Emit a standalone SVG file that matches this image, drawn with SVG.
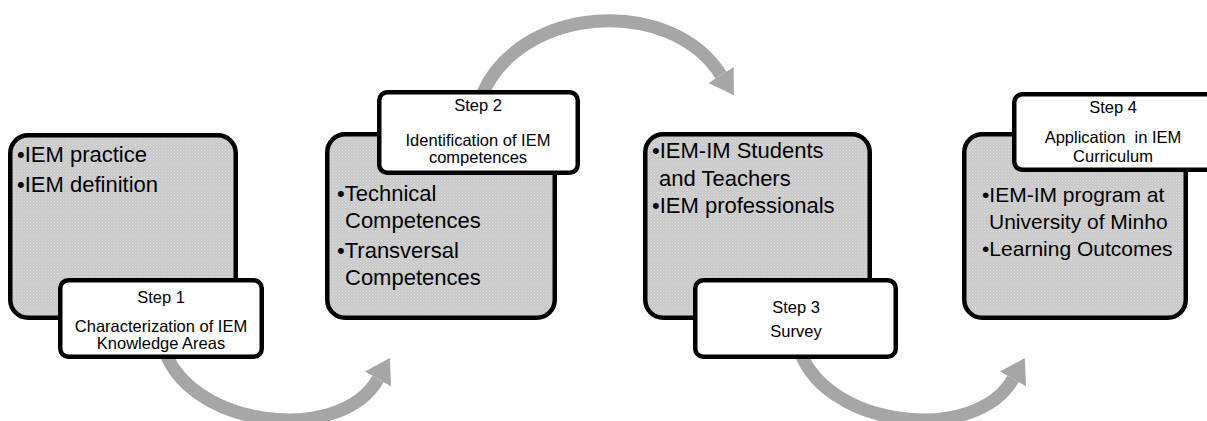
<svg xmlns="http://www.w3.org/2000/svg" width="1207" height="421" viewBox="0 0 1207 421">
  <style>
    .panel { fill: url(#dots); stroke: #000; stroke-width: 4.5; }
    .label { fill: #fff; stroke: #000; stroke-width: 4.5; }
    .bul { font-family: "Liberation Sans", Arial, sans-serif; font-size: 22px; fill: #000; }
    .sm { font-size: 21px; }
    .stp { font-family: "Liberation Sans", Arial, sans-serif; font-size: 16.5px; fill: #000; text-anchor: middle; }
    .arc { fill: none; stroke: #a6a6a6; stroke-width: 13; }
  </style>
  <defs>
    <pattern id="dots" width="3" height="3" patternUnits="userSpaceOnUse">
      <rect width="3" height="3" fill="#c9c9c9"/>
      <rect x="0" y="0" width="1" height="1" fill="#dedede"/>
      <rect x="1.5" y="1.5" width="1" height="1" fill="#d9d9d9"/>
    </pattern>
    <marker id="head" viewBox="0 0 24 30" refX="0" refY="15" markerWidth="24" markerHeight="30" markerUnits="userSpaceOnUse" orient="auto">
      <path d="M0,0 L24,15 L0,30 z" fill="#a6a6a6"/>
    </marker>
  </defs>

  <g id="connectors">
    <path class="arc" d="M163,345 C185,428 340,446 378,379" marker-end="url(#head)"/>
    <path class="arc" d="M482,95 C520,5 670,-5 721,75" marker-end="url(#head)"/>
    <path class="arc" d="M798,345 C820,428 975,446 1013,379" marker-end="url(#head)"/>
  </g>

  <g id="panel1">
    <rect class="panel" x="10.25" y="135.25" width="225.5" height="182.5" rx="18"/>
    <text class="bul" x="17" y="162">•IEM practice</text>
    <text class="bul" x="17" y="192">•IEM definition</text>
  </g>
  <g id="step1">
    <rect class="label" x="60.25" y="280.25" width="201.5" height="76.5" rx="8"/>
    <text class="stp" x="161" y="303">Step 1</text>
    <text class="stp" x="161" y="332">Characterization of IEM</text>
    <text class="stp" x="161" y="349">Knowledge Areas</text>
  </g>

  <g id="panel2">
    <rect class="panel" x="327.25" y="134.25" width="227.5" height="183.5" rx="18"/>
    <text class="bul" x="337" y="201">•Technical</text>
    <text class="bul" x="345" y="228">Competences</text>
    <text class="bul" x="337" y="258">•Transversal</text>
    <text class="bul" x="345" y="285">Competences</text>
  </g>
  <g id="step2">
    <rect class="label" x="379.25" y="92.25" width="198.5" height="80.5" rx="8"/>
    <text class="stp" x="478" y="111">Step 2</text>
    <text class="stp" x="478" y="146">Identification of IEM</text>
    <text class="stp" x="478" y="163">competences</text>
  </g>

  <g id="panel3">
    <rect class="panel" x="645.25" y="134.25" width="224.5" height="183.5" rx="18"/>
    <text class="bul" x="652" y="158">•IEM-IM Students</text>
    <text class="bul" x="659" y="186">and Teachers</text>
    <text class="bul" x="652" y="213">•IEM professionals</text>
  </g>
  <g id="step3">
    <rect class="label" x="695.25" y="280.25" width="200.5" height="76.5" rx="8"/>
    <text class="stp" x="796" y="313">Step 3</text>
    <text class="stp" x="796" y="337">Survey</text>
  </g>

  <g id="panel4">
    <rect class="panel" x="964.25" y="134.25" width="221.5" height="183.5" rx="18"/>
    <text class="bul sm" x="982" y="202">•IEM-IM program at</text>
    <text class="bul sm" x="989" y="229">University of Minho</text>
    <text class="bul sm" x="982" y="256">•Learning Outcomes</text>
  </g>
  <g id="step4">
    <rect class="label" x="1014.25" y="94.25" width="200.5" height="75.5" rx="8"/>
    <text class="stp" x="1113" y="113">Step 4</text>
    <text class="stp" x="1113" y="143" xml:space="preserve">Application  in IEM</text>
    <text class="stp" x="1113" y="162">Curriculum</text>
  </g>
</svg>
